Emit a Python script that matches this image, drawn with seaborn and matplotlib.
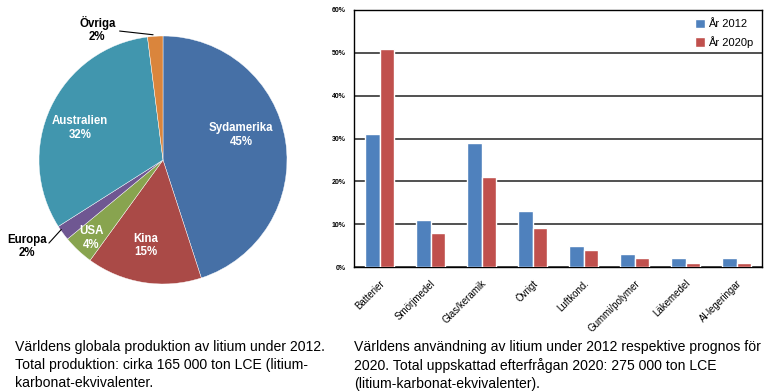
import numpy as np
import pandas as pd
import matplotlib
matplotlib.use("Agg")
import matplotlib.pyplot as plt
import seaborn as sns

# Pie data: world lithium production 2012
regioner = ["Sydamerika", "Kina", "USA", "Europa", "Australien", "Övriga"]
andelar = [45, 15, 4, 2, 32, 2]
pie_farger = ["#4670A6", "#AA4A47", "#88A44F", "#6F5792", "#4196AE", "#DA853C"]

# Bar data: lithium use 2012 vs forecast 2020
anvandning = ["Batterier", "Smörjmedel", "Glas/keramik", "Övrigt", "Luftkond.",
              "Gummi/polymer", "Läkemedel", "Al-legeringar"]
ar_2012 = [31, 11, 29, 13, 5, 3, 2, 2]
ar_2020p = [51, 8, 21, 9, 4, 2, 1, 1]
serier = ["År 2012", "År 2020p"]
yticks = [0, 10, 20, 30, 40, 50, 60]

df = pd.DataFrame({
    "kategori": anvandning * 2,
    "serie": [serier[0]] * len(anvandning) + [serier[1]] * len(anvandning),
    "varde": ar_2012 + ar_2020p,
})

sns.set_style("white")
plt.rcParams["font.family"] = ["Liberation Sans", "DejaVu Sans"]
plt.rcParams["text.color"] = "black"
plt.rcParams["xtick.color"] = "black"
plt.rcParams["ytick.color"] = "black"

fig = plt.figure(figsize=(7.69, 3.92), dpi=100)

# --- Pie ---
ax1 = fig.add_axes([39 / 769, (392 - 284) / 392, 248 / 769, 248 / 392])
wedges, _ = ax1.pie(andelar, colors=pie_farger, startangle=90, counterclock=False,
                    wedgeprops=dict(edgecolor="white", linewidth=0.3))
ax1.set_xlim(-1, 1)
ax1.set_ylim(-1, 1)
ax1.set_aspect("equal")

# label positions inside the pie (axes data units)
inne_pos = {"Sydamerika": (0.63, 0.20), "Kina": (-0.14, -0.69),
            "USA": (-0.58, -0.63), "Australien": (-0.67, 0.26)}
for namn, p in zip(regioner, andelar):
    if namn in inne_pos:
        x, y = inne_pos[namn]
        ax1.text(x, y, f"{namn}\n{p}%", ha="center", va="center", color="white",
                 fontsize=8.3, fontweight="bold", linespacing=1.2)

# outside labels with leader lines
ax1.text(-0.53, 1.05, "Övriga\n2%", ha="center", va="center", fontsize=8.3,
         fontweight="bold", linespacing=1.15, clip_on=False)
ax1.plot([-0.35, -0.08], [1.04, 1.01], color="black", lw=0.8, clip_on=False)
ax1.text(-1.10, -0.70, "Europa\n2%", ha="center", va="center", fontsize=8.3,
         fontweight="bold", linespacing=1.15, clip_on=False)
ax1.plot([-0.92, -0.82], [-0.67, -0.56], color="black", lw=0.8, clip_on=False)

# --- Bars ---
ax2 = fig.add_axes([354 / 769, (392 - 267) / 392, 408 / 769, 257 / 392])
sns.barplot(data=df, x="kategori", y="varde", hue="serie", ax=ax2,
            palette=["#4F81BD", "#C0504D"], width=0.58, saturation=1, zorder=3)
ax2.set_ylim(0, 60)
ax2.set_yticks(yticks)
ax2.set_yticklabels([f"{v}%" for v in yticks], fontsize=5, fontweight="bold")
ax2.yaxis.grid(True, color="#222222", linewidth=1.1, zorder=0)
ax2.set_axisbelow(True)
ax2.set_xlabel("")
ax2.set_ylabel("")
ax2.tick_params(axis="y", length=0, pad=6)
ax2.tick_params(axis="x", length=0, pad=8)
plt.setp(ax2.get_xticklabels(), rotation=45, ha="right", rotation_mode="anchor", fontsize=7)
for s in ax2.spines.values():
    s.set_color("black")
    s.set_linewidth(1.0)
ax2.legend(loc="upper right", frameon=False, fontsize=8, handlelength=0.9,
           handleheight=0.9, handletextpad=0.3, labelspacing=0.6,
           borderaxespad=0.4)

# --- Captions ---
cap_kw = dict(fontsize=10.1, family=["Liberation Sans", "DejaVu Sans"], va="top",
              linespacing=1.35)
fig.text(15 / 769, 1 - 340 / 392,
         "Världens globala produktion av litium under 2012.\n"
         "Total produktion: cirka 165 000 ton LCE (litium-\n"
         "karbonat-ekvivalenter.", **cap_kw)
fig.text(354 / 769, 1 - 340 / 392,
         "Världens användning av litium under 2012 respektive prognos för\n"
         "2020. Total uppskattad efterfrågan 2020: 275 000 ton LCE\n"
         "(litium-karbonat-ekvivalenter).", **cap_kw)

fig.savefig("out.png", dpi=100)
